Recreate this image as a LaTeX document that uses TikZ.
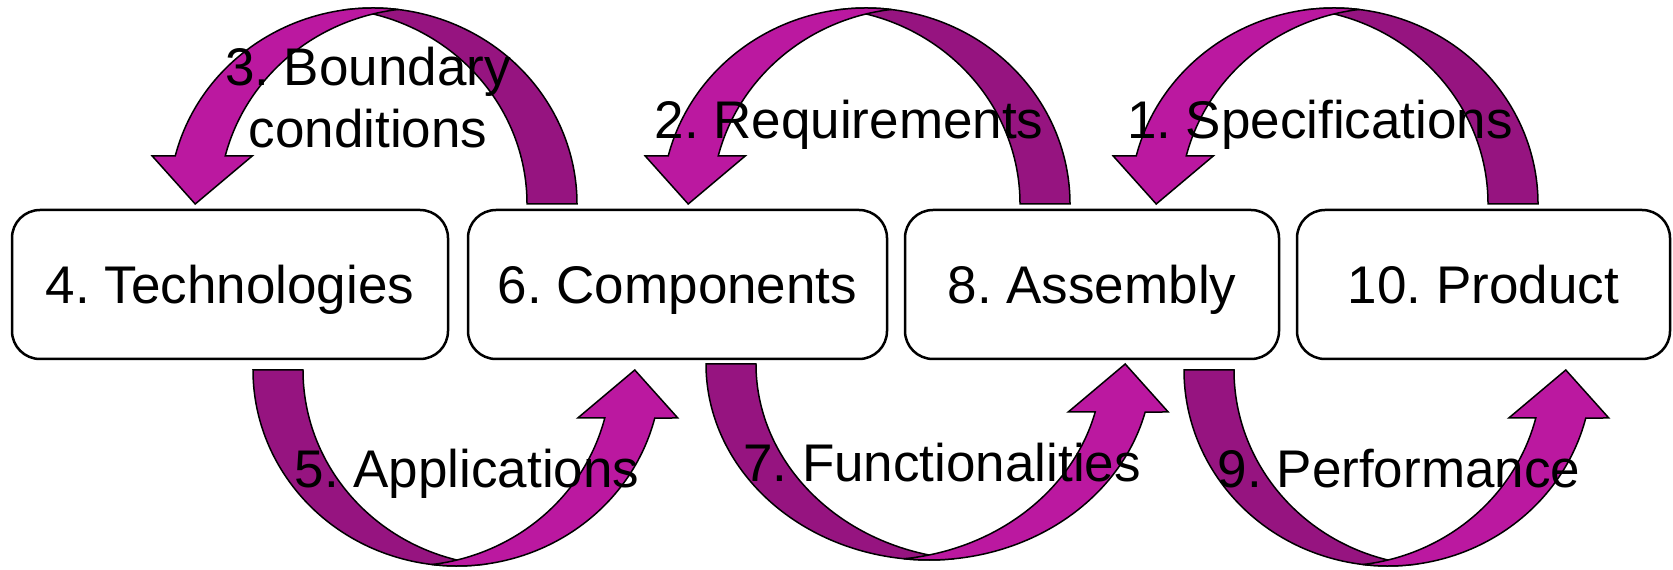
\documentclass[tikz,border=0pt]{standalone}
\usepackage{fontspec}
\setmainfont{Liberation Sans}
\usetikzlibrary{positioning}
\definecolor{arcfront}{RGB}{187,24,160}
\definecolor{arcback}{RGB}{150,20,128}
\frenchspacing

\begin{document}
\begin{tikzpicture}[x=1pt,y=1pt]
    \tikzset{
      stagenode/.style={rectangle,rounded corners=28pt,draw=black,line width=2.5pt,minimum height=149pt,inner sep=0pt,text height=39pt,text depth=0pt,font=\fontsize{53}{62}\selectfont},
      arclabel/.style={inner sep=0pt,font=\fontsize{53}{62}\selectfont,align=center},
      arcpart/.style={draw=black,line width=1.5pt,line join=miter},
      pics/bendarrow/.style={code={
        \pgfmathsetmacro\arcrad{#1}
        \pgfmathsetmacro\arccut{acos(25/\arcrad)}
        \pgfmathsetmacro\arcshaft{\arcrad*cos(165.82)}
        % back of the ribbon
        \filldraw[fill=arcback,arcpart] (\arcrad,0) arc[start angle=0,end angle=180-\arccut,x radius=\arcrad,y radius=196]
          arc[start angle=\arccut,end angle=0,x radius=\arcrad,y radius=196] -- cycle;
        % front of the ribbon, with the head
        \filldraw[fill=arcfront,arcpart] (25,{196*sin(\arccut)}) arc[start angle=\arccut,end angle=165.82,x radius=\arcrad,y radius=196]
          -- (\arcshaft-23,48) -- (\arcshaft+20,0) -- (\arcshaft+77,48) -- (\arcshaft+50,48)
          arc[start angle=165.82,end angle=180-\arccut,x radius=\arcrad,y radius=196] -- cycle;
      }}
    }
    \useasboundingbox (0,0) rectangle (1673,570);

    \node[stagenode,minimum width=436pt](tech) at (230,285.5){4. Technologies};
    \node[stagenode,minimum width=419pt,right=17.5pt of tech](comp){6. Components};
    \node[stagenode,minimum width=374pt,right=15.5pt of comp](asm){8. Assembly};
    \node[stagenode,minimum width=373pt,right=15.5pt of asm](prod){10. Product};

    \pic at (373,366) {bendarrow=204};
    \pic at (866,366) {bendarrow=204};
    \pic at (1334,366) {bendarrow=204};
    \pic[rotate=180] at (457,200) {bendarrow=204};
    \pic[rotate=180] at (929,206) {bendarrow=223};
    \pic[rotate=180] at (1388,200) {bendarrow=204};

    \node[arclabel,anchor=north](bound) at (368,523){3. Boundary\\conditions};
    \node[arclabel,anchor=base](req) at (849,431){2. Requirements};
    \node[arclabel,anchor=base](spec) at (1320,431){1. Specifications};
    \node[arclabel,anchor=base](appl) at (467,82){5. Applications};
    \node[arclabel,anchor=base](func) at (942,88){7. Functionalities};
    \node[arclabel,anchor=base](perf) at (1399,82){9. Performance};

  \end{tikzpicture}
\end{document}
